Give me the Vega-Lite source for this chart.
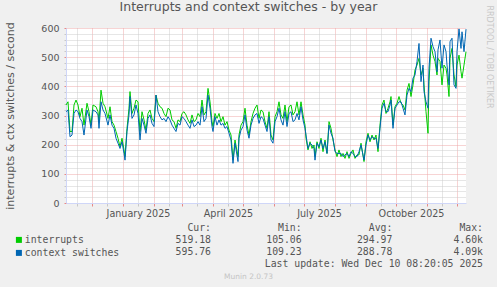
{
"$schema": "https://vega.github.io/schema/vega-lite/v6.json",
"width": 400, "height": 175,
"autosize": {"type": "none"},
"padding": {"left": 66, "top": 28, "right": 31, "bottom": 84},
"background": "#f0f0f0",
"config": {"view": {"fill": "#ffffff", "stroke": null}, "font": "DejaVu Sans", "axis": {"labelOverlap": false}},
"title": {"text": "Interrupts and context switches - by year", "anchor": "middle", "dx": -17.5, "dy": 23, "offset": 5, "baseline": "alphabetic", "font": "DejaVu Sans", "fontSize": 12.5, "fontWeight": "normal", "color": "#555555"},
"datasets": {
"ts": [
{"d":"2024-11-05","interrupts":336,"context switches":313},{"d":"2024-11-07","interrupts":347,"context switches":319},{"d":"2024-11-09","interrupts":245,"context switches":227},{"d":"2024-11-11","interrupts":245,"context switches":233},
{"d":"2024-11-13","interrupts":336,"context switches":307},{"d":"2024-11-15","interrupts":353,"context switches":319},{"d":"2024-11-17","interrupts":336,"context switches":313},{"d":"2024-11-19","interrupts":296,"context switches":290},
{"d":"2024-11-21","interrupts":325,"context switches":279},{"d":"2024-11-23","interrupts":267,"context switches":233},{"d":"2024-11-26","interrupts":342,"context switches":319},{"d":"2024-11-28","interrupts":313,"context switches":296},
{"d":"2024-11-30","interrupts":267,"context switches":256},{"d":"2024-12-02","interrupts":336,"context switches":319},{"d":"2024-12-05","interrupts":330,"context switches":313},{"d":"2024-12-07","interrupts":313,"context switches":302},
{"d":"2024-12-08","interrupts":279,"context switches":256},{"d":"2024-12-10","interrupts":387,"context switches":347},{"d":"2024-12-12","interrupts":342,"context switches":319},{"d":"2024-12-14","interrupts":330,"context switches":307},
{"d":"2024-12-17","interrupts":290,"context switches":267},{"d":"2024-12-19","interrupts":330,"context switches":302},{"d":"2024-12-21","interrupts":279,"context switches":267},{"d":"2024-12-23","interrupts":267,"context switches":256},
{"d":"2024-12-25","interrupts":245,"context switches":222},{"d":"2024-12-27","interrupts":222,"context switches":205},{"d":"2024-12-29","interrupts":193,"context switches":187},{"d":"2024-12-31","interrupts":222,"context switches":210},
{"d":"2025-01-02","interrupts":182,"context switches":170},{"d":"2025-01-03","interrupts":159,"context switches":147},{"d":"2025-01-05","interrupts":256,"context switches":245},{"d":"2025-01-07","interrupts":325,"context switches":302},
{"d":"2025-01-08","interrupts":382,"context switches":365},{"d":"2025-01-10","interrupts":307,"context switches":290},{"d":"2025-01-12","interrupts":325,"context switches":302},{"d":"2025-01-14","interrupts":353,"context switches":336},
{"d":"2025-01-16","interrupts":347,"context switches":307},{"d":"2025-01-18","interrupts":245,"context switches":216},{"d":"2025-01-20","interrupts":313,"context switches":290},{"d":"2025-01-22","interrupts":285,"context switches":267},
{"d":"2025-01-24","interrupts":250,"context switches":239},{"d":"2025-01-26","interrupts":307,"context switches":290},{"d":"2025-01-28","interrupts":319,"context switches":302},{"d":"2025-01-30","interrupts":290,"context switches":273},
{"d":"2025-02-01","interrupts":279,"context switches":262},{"d":"2025-02-03","interrupts":370,"context switches":370},{"d":"2025-02-05","interrupts":342,"context switches":313},{"d":"2025-02-07","interrupts":330,"context switches":296},
{"d":"2025-02-09","interrupts":325,"context switches":285},{"d":"2025-02-11","interrupts":307,"context switches":290},{"d":"2025-02-13","interrupts":296,"context switches":279},{"d":"2025-02-15","interrupts":325,"context switches":296},
{"d":"2025-02-17","interrupts":319,"context switches":285},{"d":"2025-02-19","interrupts":285,"context switches":267},{"d":"2025-02-21","interrupts":279,"context switches":256},{"d":"2025-02-23","interrupts":256,"context switches":245},
{"d":"2025-02-25","interrupts":285,"context switches":273},{"d":"2025-02-27","interrupts":279,"context switches":267},{"d":"2025-03-01","interrupts":307,"context switches":296},{"d":"2025-03-03","interrupts":313,"context switches":290},
{"d":"2025-03-05","interrupts":302,"context switches":279},{"d":"2025-03-07","interrupts":285,"context switches":267},{"d":"2025-03-09","interrupts":273,"context switches":256},{"d":"2025-03-11","interrupts":302,"context switches":285},
{"d":"2025-03-13","interrupts":279,"context switches":262},{"d":"2025-03-15","interrupts":285,"context switches":267},{"d":"2025-03-17","interrupts":307,"context switches":279},{"d":"2025-03-19","interrupts":296,"context switches":267},
{"d":"2025-03-21","interrupts":353,"context switches":330},{"d":"2025-03-23","interrupts":302,"context switches":279},{"d":"2025-03-25","interrupts":313,"context switches":290},{"d":"2025-03-27","interrupts":393,"context switches":370},
{"d":"2025-03-29","interrupts":347,"context switches":325},{"d":"2025-03-31","interrupts":279,"context switches":262},{"d":"2025-04-01","interrupts":262,"context switches":245},{"d":"2025-04-03","interrupts":307,"context switches":296},
{"d":"2025-04-05","interrupts":290,"context switches":267},{"d":"2025-04-07","interrupts":307,"context switches":285},{"d":"2025-04-09","interrupts":279,"context switches":267},{"d":"2025-04-11","interrupts":296,"context switches":273},
{"d":"2025-04-13","interrupts":267,"context switches":256},{"d":"2025-04-15","interrupts":279,"context switches":262},{"d":"2025-04-17","interrupts":250,"context switches":239},{"d":"2025-04-19","interrupts":233,"context switches":216},
{"d":"2025-04-21","interrupts":147,"context switches":136},{"d":"2025-04-23","interrupts":216,"context switches":205},{"d":"2025-04-26","interrupts":159,"context switches":142},{"d":"2025-04-27","interrupts":233,"context switches":222},
{"d":"2025-04-29","interrupts":267,"context switches":250},{"d":"2025-05-01","interrupts":279,"context switches":262},{"d":"2025-05-03","interrupts":325,"context switches":302},{"d":"2025-05-05","interrupts":267,"context switches":250},
{"d":"2025-05-07","interrupts":233,"context switches":222},{"d":"2025-05-09","interrupts":279,"context switches":267},{"d":"2025-05-11","interrupts":307,"context switches":290},{"d":"2025-05-13","interrupts":325,"context switches":302},
{"d":"2025-05-15","interrupts":336,"context switches":307},{"d":"2025-05-17","interrupts":290,"context switches":273},{"d":"2025-05-19","interrupts":319,"context switches":296},{"d":"2025-05-21","interrupts":313,"context switches":290},
{"d":"2025-05-23","interrupts":279,"context switches":267},{"d":"2025-05-25","interrupts":256,"context switches":245},{"d":"2025-05-27","interrupts":313,"context switches":296},{"d":"2025-05-29","interrupts":233,"context switches":216},
{"d":"2025-05-31","interrupts":216,"context switches":205},{"d":"2025-06-02","interrupts":296,"context switches":279},{"d":"2025-06-04","interrupts":313,"context switches":296},{"d":"2025-06-06","interrupts":347,"context switches":325},
{"d":"2025-06-08","interrupts":302,"context switches":285},{"d":"2025-06-10","interrupts":290,"context switches":267},{"d":"2025-06-12","interrupts":336,"context switches":313},{"d":"2025-06-14","interrupts":279,"context switches":262},
{"d":"2025-06-16","interrupts":330,"context switches":307},{"d":"2025-06-18","interrupts":336,"context switches":313},{"d":"2025-06-20","interrupts":302,"context switches":279},{"d":"2025-06-22","interrupts":313,"context switches":285},
{"d":"2025-06-24","interrupts":347,"context switches":307},{"d":"2025-06-26","interrupts":302,"context switches":285},{"d":"2025-06-28","interrupts":347,"context switches":330},{"d":"2025-06-30","interrupts":302,"context switches":285},
{"d":"2025-07-02","interrupts":267,"context switches":256},{"d":"2025-07-03","interrupts":222,"context switches":233},{"d":"2025-07-05","interrupts":182,"context switches":187},{"d":"2025-07-07","interrupts":210,"context switches":205},
{"d":"2025-07-09","interrupts":187,"context switches":199},{"d":"2025-07-11","interrupts":199,"context switches":187},{"d":"2025-07-12","interrupts":159,"context switches":147},{"d":"2025-07-14","interrupts":210,"context switches":205},
{"d":"2025-07-16","interrupts":187,"context switches":193},{"d":"2025-07-18","interrupts":222,"context switches":216},{"d":"2025-07-20","interrupts":176,"context switches":187},{"d":"2025-07-22","interrupts":216,"context switches":210},
{"d":"2025-07-24","interrupts":170,"context switches":170},{"d":"2025-07-26","interrupts":279,"context switches":267},{"d":"2025-07-28","interrupts":256,"context switches":239},{"d":"2025-07-30","interrupts":216,"context switches":222},
{"d":"2025-08-01","interrupts":182,"context switches":176},{"d":"2025-08-03","interrupts":159,"context switches":170},{"d":"2025-08-05","interrupts":182,"context switches":170},{"d":"2025-08-07","interrupts":159,"context switches":170},
{"d":"2025-08-09","interrupts":170,"context switches":159},{"d":"2025-08-11","interrupts":153,"context switches":165},{"d":"2025-08-13","interrupts":176,"context switches":170},{"d":"2025-08-15","interrupts":153,"context switches":159},
{"d":"2025-08-17","interrupts":170,"context switches":176},{"d":"2025-08-19","interrupts":182,"context switches":170},{"d":"2025-08-21","interrupts":153,"context switches":159},{"d":"2025-08-23","interrupts":165,"context switches":159},
{"d":"2025-08-25","interrupts":165,"context switches":176},{"d":"2025-08-27","interrupts":205,"context switches":199},{"d":"2025-08-30","interrupts":142,"context switches":147},{"d":"2025-09-01","interrupts":210,"context switches":199},
{"d":"2025-09-03","interrupts":239,"context switches":233},{"d":"2025-09-05","interrupts":210,"context switches":216},{"d":"2025-09-07","interrupts":233,"context switches":227},{"d":"2025-09-09","interrupts":216,"context switches":222},
{"d":"2025-09-11","interrupts":233,"context switches":222},{"d":"2025-09-13","interrupts":176,"context switches":187},{"d":"2025-09-15","interrupts":267,"context switches":256},{"d":"2025-09-17","interrupts":336,"context switches":325},
{"d":"2025-09-19","interrupts":353,"context switches":342},{"d":"2025-09-21","interrupts":307,"context switches":313},{"d":"2025-09-23","interrupts":325,"context switches":313},{"d":"2025-09-25","interrupts":347,"context switches":336},
{"d":"2025-09-26","interrupts":365,"context switches":353},{"d":"2025-09-28","interrupts":267,"context switches":256},{"d":"2025-09-30","interrupts":330,"context switches":325},{"d":"2025-10-02","interrupts":342,"context switches":336},
{"d":"2025-10-04","interrupts":365,"context switches":347},{"d":"2025-10-06","interrupts":342,"context switches":347},{"d":"2025-10-08","interrupts":336,"context switches":325},{"d":"2025-10-10","interrupts":319,"context switches":302},
{"d":"2025-10-12","interrupts":387,"context switches":370},{"d":"2025-10-14","interrupts":410,"context switches":393},{"d":"2025-10-16","interrupts":365,"context switches":382},{"d":"2025-10-18","interrupts":405,"context switches":428},
{"d":"2025-10-20","interrupts":456,"context switches":439},{"d":"2025-10-22","interrupts":473,"context switches":485},{"d":"2025-10-24","interrupts":496,"context switches":547},{"d":"2025-10-26","interrupts":439,"context switches":416},
{"d":"2025-10-28","interrupts":462,"context switches":473},{"d":"2025-10-29","interrupts":405,"context switches":382},{"d":"2025-10-31","interrupts":313,"context switches":347},{"d":"2025-11-02","interrupts":239,"context switches":325},
{"d":"2025-11-03","interrupts":416,"context switches":462},{"d":"2025-11-05","interrupts":542,"context switches":565},{"d":"2025-11-07","interrupts":507,"context switches":536},{"d":"2025-11-09","interrupts":485,"context switches":519},
{"d":"2025-11-11","interrupts":439,"context switches":450},{"d":"2025-11-12","interrupts":496,"context switches":525},{"d":"2025-11-14","interrupts":485,"context switches":559},{"d":"2025-11-16","interrupts":405,"context switches":462},
{"d":"2025-11-18","interrupts":473,"context switches":542},{"d":"2025-11-20","interrupts":462,"context switches":519},{"d":"2025-11-21","interrupts":439,"context switches":473},{"d":"2025-11-23","interrupts":365,"context switches":405},
{"d":"2025-11-24","interrupts":496,"context switches":553},{"d":"2025-11-26","interrupts":530,"context switches":565},{"d":"2025-11-28","interrupts":439,"context switches":405},{"d":"2025-11-30","interrupts":399,"context switches":393},
{"d":"2025-12-01","interrupts":473,"context switches":519},{"d":"2025-12-03","interrupts":507,"context switches":597},{"d":"2025-12-05","interrupts":450,"context switches":530},{"d":"2025-12-06","interrupts":428,"context switches":587},
{"d":"2025-12-08","interrupts":473,"context switches":519},{"d":"2025-12-10","interrupts":519,"context switches":596}
],
"tbl": [
{"row":"header","col":"Cur","t":"Cur:\u00a0"},{"row":"header","col":"Min","t":"Min:\u00a0"},{"row":"header","col":"Avg","t":"Avg:\u00a0"},{"row":"header","col":"Max","t":"Max:\u00a0\u00a0"},
{"row":"interrupts","col":"Cur","t":"519.18"},{"row":"interrupts","col":"Min","t":"105.06"},{"row":"interrupts","col":"Avg","t":"294.97"},{"row":"interrupts","col":"Max","t":"4.60k"},
{"row":"context switches","col":"Cur","t":"595.76"},{"row":"context switches","col":"Min","t":"109.23"},{"row":"context switches","col":"Avg","t":"288.78"},{"row":"context switches","col":"Max","t":"4.09k"},
{"row":"update","col":"Max","t":"Last update: Wed Dec 10 08:20:05 2025"}
]
},
"layer": [
{
"data": {"name": "ts"},
"transform": [{"fold": ["interrupts", "context switches"], "as": ["series", "value"]}],
"mark": {"type": "line", "strokeWidth": 1},
"encoding": {
"x": {"field": "d", "type": "temporal",
"scale": {"type": "utc", "domain": [{"year": 2024, "month": 11, "date": 5, "utc": true}, {"year": 2025, "month": 12, "date": 10, "utc": true}]},
"axis": {
"values": [
{"year":2024,"month":11,"date":16,"utc":true},{"year":2024,"month":12,"date":1,"utc":true},{"year":2024,"month":12,"date":16,"utc":true},
{"year":2025,"month":1,"date":1,"utc":true},{"year":2025,"month":1,"date":16,"utc":true},
{"year":2025,"month":2,"date":1,"utc":true},{"year":2025,"month":2,"date":16,"utc":true},
{"year":2025,"month":3,"date":1,"utc":true},{"year":2025,"month":3,"date":16,"utc":true},
{"year":2025,"month":4,"date":1,"utc":true},{"year":2025,"month":4,"date":16,"utc":true},
{"year":2025,"month":5,"date":1,"utc":true},{"year":2025,"month":5,"date":16,"utc":true},
{"year":2025,"month":6,"date":1,"utc":true},{"year":2025,"month":6,"date":16,"utc":true},
{"year":2025,"month":7,"date":1,"utc":true},{"year":2025,"month":7,"date":16,"utc":true},
{"year":2025,"month":8,"date":1,"utc":true},{"year":2025,"month":8,"date":16,"utc":true},
{"year":2025,"month":9,"date":1,"utc":true},{"year":2025,"month":9,"date":16,"utc":true},
{"year":2025,"month":10,"date":1,"utc":true},{"year":2025,"month":10,"date":16,"utc":true},
{"year":2025,"month":11,"date":1,"utc":true},{"year":2025,"month":11,"date":16,"utc":true},
{"year":2025,"month":12,"date":1,"utc":true}
],
"labelExpr": "utcdate(datum.value) === 16 && utcmonth(datum.value) % 3 === 0 ? utcFormat(datum.value, '%B %Y') : ''",
"labelOverlap": false, "labelFlush": false,
"labelFont": "DejaVu Sans", "labelFontSize": 9.6, "labelColor": "#555555", "labelPadding": 2,
"grid": true, "gridDash": [1, 1], "gridWidth": 1,
"gridColor": {"condition": {"test": "utcdate(datum.value) === 1", "value": "#efa8a8"}, "value": "#cdcdcd"},
"tickColor": {"condition": {"test": "utcdate(datum.value) === 1", "value": "#e88888"}, "value": "#c8c8c8"},
"tickSize": 3, "domainColor": "#cfd6f8",
"title": "Munin 2.0.73", "titleX": 182, "titleY": 73, "titleAlign": "center", "titleBaseline": "middle",
"titleFont": "DejaVu Sans", "titleFontSize": 7.5, "titleFontWeight": "normal", "titleColor": "#c4c4c4"
}
},
"y": {"field": "value", "type": "quantitative",
"scale": {"domain": [0, 600], "nice": false},
"axis": {
"values": [0,20,40,60,80,100,120,140,160,180,200,220,240,260,280,300,320,340,360,380,400,420,440,460,480,500,520,540,560,580,600],
"labelExpr": "datum.value % 100 === 0 ? datum.label : ''",
"labelOverlap": false,
"labelFont": "DejaVu Sans", "labelFontSize": 9.5, "labelColor": "#555555", "labelPadding": 5,
"grid": true, "gridDash": [1, 1], "gridWidth": 1,
"gridColor": {"condition": {"test": "datum.value % 100 === 0", "value": "#efa8a8"}, "value": "#cdcdcd"},
"tickColor": {"condition": {"test": "datum.value % 100 === 0", "value": "#e88888"}, "value": "#c8c8c8"},
"tickSize": 2, "domainColor": "#cfd6f8",
"title": "interrupts & ctx switches / second", "titleX": -56, "titleY": 87.5, "titleAngle": -90,
"titleAlign": "center", "titleBaseline": "middle",
"titleFont": "DejaVu Sans", "titleFontSize": 11, "titleFontWeight": "normal", "titleColor": "#555555"
}
},
"color": {"field": "series", "type": "nominal",
"scale": {"domain": ["interrupts", "context switches"], "range": ["#00cc00", "#0066b3"]},
"legend": {"orient": "none", "legendX": -52, "legendY": 207, "title": null, "padding": 0,
"symbolType": "square", "symbolSize": 36, "labelOffset": 1, "rowPadding": 2,
"labelFont": "DejaVu Sans Mono", "labelFontSize": 9.8, "labelColor": "#555555",
"encode": {"symbols": {"update": {"fill": {"scale": "color", "field": "value"}, "stroke": {"value": "transparent"}, "strokeWidth": {"value": 0}}}}}
}
}
},
{
"data": {"name": "tbl"},
"mark": {"type": "text", "align": "right", "baseline": "middle", "font": "DejaVu Sans Mono", "fontSize": 9.8, "color": "#555555"},
"encoding": {
"x": {"field": "col", "type": "nominal", "scale": {"type": "point", "domain": ["Cur", "Min", "Avg", "Max"], "range": [145, 417], "padding": 0}, "axis": null},
"y": {"field": "row", "type": "nominal", "scale": {"type": "point", "domain": ["header", "interrupts", "context switches", "update"], "range": [200, 236], "padding": 0},
"axis": {"orient": "right", "labels": false, "ticks": false, "domain": false, "grid": false,
"title": "RRDTOOL / TOBI OETIKER", "titleAngle": 90, "titleX": 22, "titleY": -23, "titleAlign": "left", "titleBaseline": "middle",
"titleFont": "DejaVu Sans", "titleFontSize": 8, "titleFontWeight": "normal", "titleColor": "#c8c8c8"}},
"text": {"field": "t"}
}
}
],
"resolve": {"scale": {"x": "independent", "y": "independent"}}
}
